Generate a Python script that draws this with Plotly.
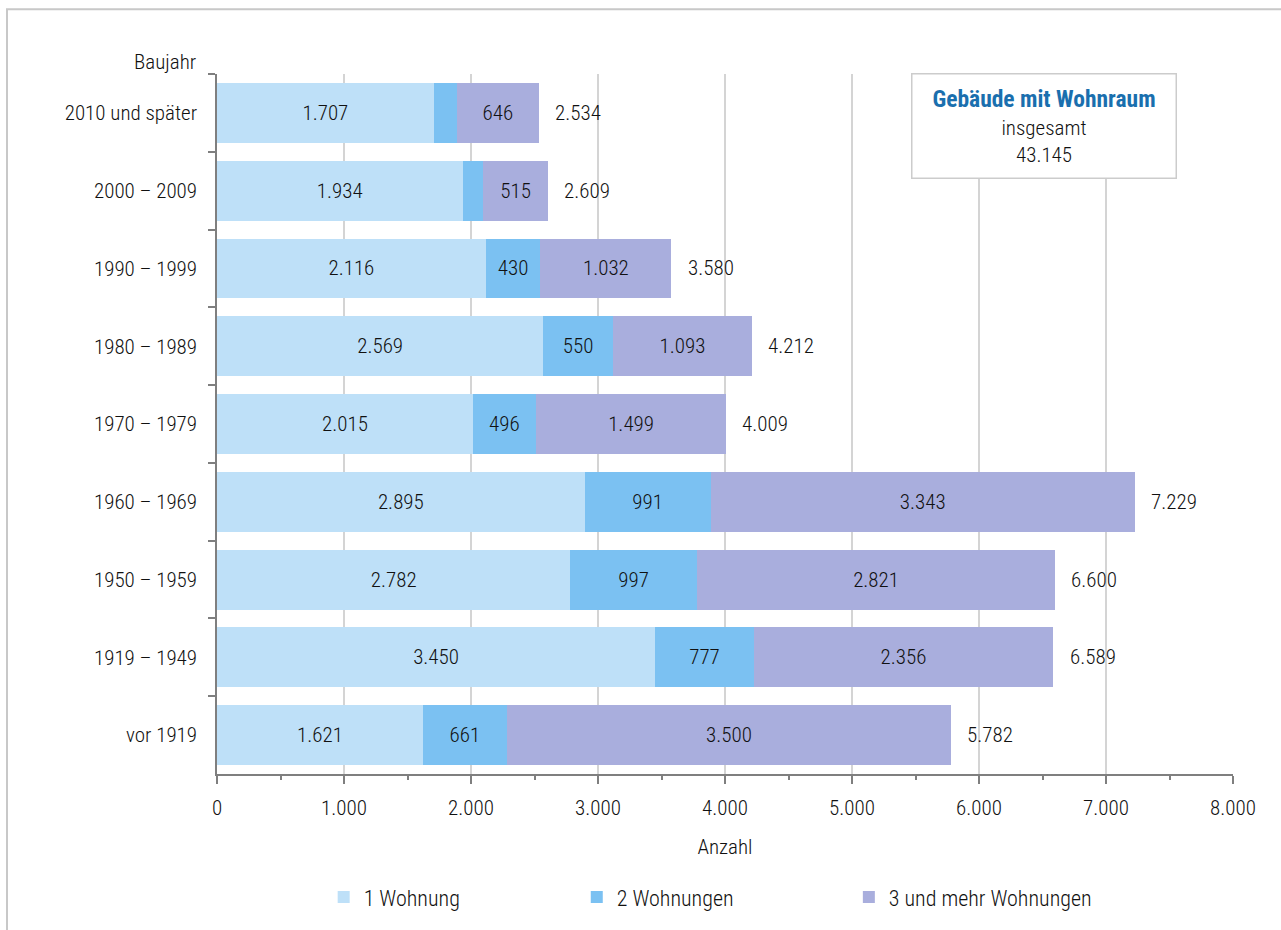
import plotly.graph_objects as go

categories = ["2010 und später", "2000 – 2009", "1990 – 1999", "1980 – 1989",
              "1970 – 1979", "1960 – 1969", "1950 – 1959", "1919 – 1949", "vor 1919"]
one_flat = [1707, 1934, 2116, 2569, 2015, 2895, 2782, 3450, 1621]
two_flats = [181, 160, 430, 550, 496, 991, 997, 777, 661]
three_plus = [646, 515, 1032, 1093, 1499, 3343, 2821, 2356, 3500]
totals = [2534, 2609, 3580, 4212, 4009, 7229, 6600, 6589, 5782]
series_names = ["1 Wohnung", "2 Wohnungen", "3 und mehr Wohnungen"]
colors = ["#BEE0F8", "#7BC1F2", "#A9AEDD"]
x_ticks = [0, 1000, 2000, 3000, 4000, 5000, 6000, 7000, 8000]
x_tick_labels = ["0", "1.000", "2.000", "3.000", "4.000", "5.000", "6.000", "7.000", "8.000"]
grand_total = "43.145"

FONT = "Roboto Condensed"
FS = 21
TXT = "#111111"


def fmt(v):
    return f"{v:,}".replace(",", ".")


def tfont(**kw):
    d = dict(family=FONT, size=FS, color=TXT, weight=300)
    d.update(kw)
    return d


legend_ids = ["legend", "legend2", "legend3"]
legend_x = [0.105, 0.3541, 0.6219]

fig = go.Figure()
for name, vals, col, lid in zip(series_names, [one_flat, two_flats, three_plus], colors, legend_ids):
    fig.add_trace(go.Bar(
        y=categories, x=vals, name=name, orientation="h",
        marker=dict(color=col, line=dict(width=0)),
        text=[fmt(v) if v >= 300 else "" for v in vals],
        textposition="inside", insidetextanchor="middle",
        textfont=tfont(),
        hoverinfo="skip", legend=lid,
    ))

for cat, tot in zip(categories, totals):
    fig.add_annotation(x=tot, y=cat, xref="x", yref="y", text=fmt(tot),
                       showarrow=False, xanchor="left", xshift=14,
                       font=tfont())

fig.add_annotation(x=0, y=1.0, xref="paper", yref="paper", text="Baujahr",
                   showarrow=False, xanchor="right", yanchor="bottom",
                   xshift=-19, yshift=-2,
                   font=tfont())

fig.add_annotation(x=0.8135, y=1.0, xref="paper", yref="paper",
                   text=(f"<b><span style='color:#1a6fae;font-size:23.5px'>Gebäude mit Wohnraum</span></b>"
                         f"<br>insgesamt<br>{grand_total}"),
                   showarrow=False, xanchor="center", yanchor="top",
                   yshift=1, align="center",
                   width=263, height=103, bgcolor="white",
                   bordercolor="#cccccc", borderwidth=1.5, borderpad=0,
                   font=tfont())

# outer frame
fig.add_shape(type="rect", xref="paper", yref="paper",
              x0=(7 - 217) / 1016, x1=1.2, y0=-0.4, y1=(778 - 9) / 704,
              line=dict(color="#c8c8c8", width=2), layer="below")

layout_legends = {}
for lid, lx in zip(legend_ids, legend_x):
    layout_legends[lid] = dict(orientation="h", x=lx, y=-0.146, xanchor="left", yanchor="top",
                               font=tfont(size=22), bgcolor="rgba(0,0,0,0)")

fig.update_layout(
    width=1281, height=930,
    margin=dict(l=217, r=48, t=74, b=152),
    barmode="stack", bargap=0.23,
    plot_bgcolor="white", paper_bgcolor="white",
    font=tfont(),
    showlegend=True,
    uniformtext=dict(mode="show", minsize=10),
    **layout_legends,
)

fig.update_xaxes(
    range=[0, 8000], tickvals=x_ticks, ticktext=x_tick_labels,
    showgrid=True, gridcolor="#d4d4d4", gridwidth=1.5,
    zeroline=False, showline=True, linecolor="#7f7f7f", linewidth=1.5,
    ticks="outside", ticklen=8, tickcolor="#7f7f7f", tickwidth=1.5,
    minor=dict(dtick=500, tick0=0, ticks="outside", ticklen=4, tickcolor="#7f7f7f",
               tickwidth=1.5, showgrid=False),
    title=dict(text="Anzahl", font=tfont(), standoff=20),
    tickfont=tfont(), ticklabelstandoff=6,
)
fig.update_yaxes(
    autorange="reversed", categoryorder="array", categoryarray=categories,
    showline=True, linecolor="#7f7f7f", linewidth=1.5,
    ticks="outside", tickson="boundaries", ticklen=7, tickcolor="#7f7f7f", tickwidth=1.5,
    showgrid=False, ticklabelstandoff=14,
    tickfont=tfont(),
)

fig.write_html("out.html")
